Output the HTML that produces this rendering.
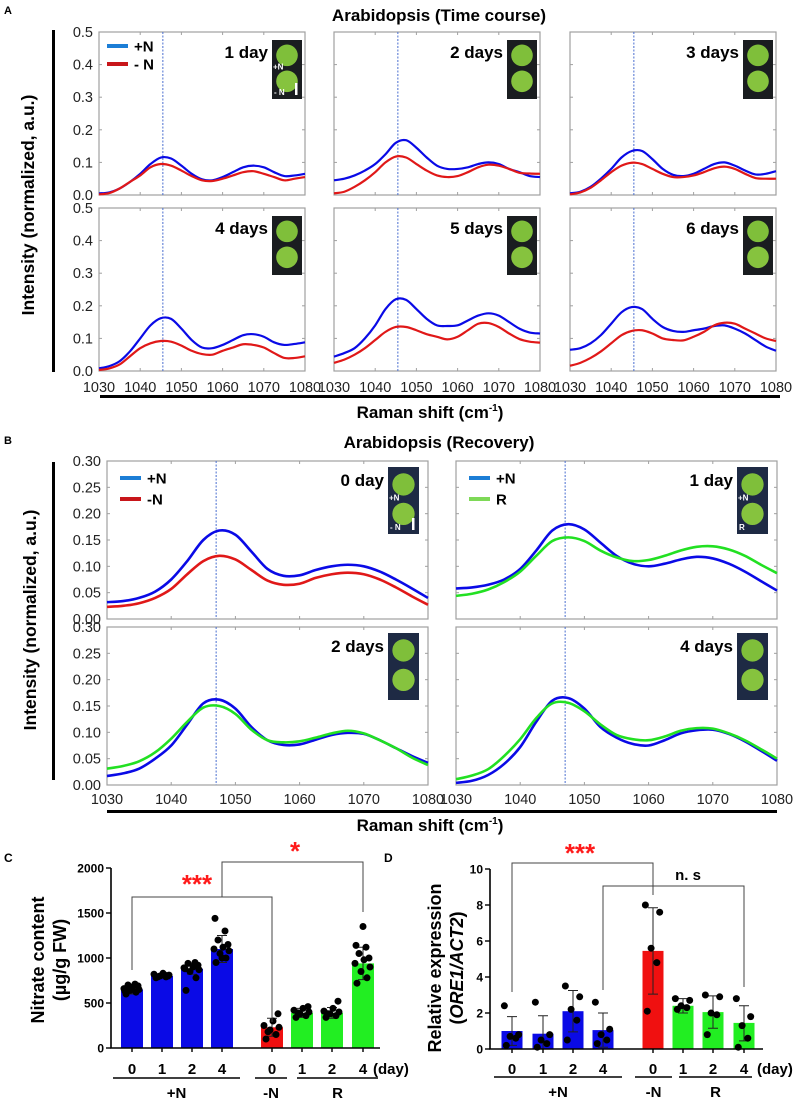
<!DOCTYPE html>
<html><head><meta charset="utf-8"><title>Arabidopsis Raman figure</title>
<style>
html,body{margin:0;padding:0;background:#fff;}
svg{display:block;font-family:"Liberation Sans",Arial,sans-serif;}
</style></head>
<body>
<svg id="fig" width="800" height="1103" viewBox="0 0 800 1103" xmlns="http://www.w3.org/2000/svg">
<rect x="0" y="0" width="800" height="1103" fill="#fff"/>
</svg>
<script>
// ---------- DATA ----------
const ramanX = [1030,1032.5,1035,1037.5,1040,1042.5,1045,1047.5,1050,1052.5,1055,1057.5,1060,1062.5,1065,1067.5,1070,1072.5,1075,1077.5,1080];
const aTicksX = [1030,1040,1050,1060,1070,1080];
const aTicksY = [0,0.1,0.2,0.3,0.4,0.5];
const aTickLabelsY = ["0.0","0.1","0.2","0.3","0.4","0.5"];
const bTicksY = [0,0.05,0.10,0.15,0.20,0.25,0.30];
const bTickLabelsY = ["0.00","0.05","0.10","0.15","0.20","0.25","0.30"];

const a1dPlus  = [.005,.008,.02,.04,.065,.095,.115,.112,.09,.065,.048,.045,.055,.07,.085,.09,.085,.07,.058,.06,.065];
const a1dMinus = [.002,.006,.02,.04,.06,.085,.095,.09,.075,.058,.045,.043,.05,.06,.07,.073,.065,.055,.045,.05,.055];
const a2dPlus  = [.045,.05,.06,.075,.095,.125,.16,.168,.145,.115,.09,.08,.08,.085,.095,.1,.095,.08,.07,.058,.055];
const a2dMinus = [.005,.01,.025,.045,.07,.1,.118,.115,.095,.075,.06,.055,.058,.07,.085,.093,.09,.08,.068,.066,.065];
const a3dPlus  = [.005,.01,.025,.05,.08,.115,.135,.135,.11,.08,.062,.058,.065,.08,.095,.1,.09,.075,.063,.065,.073];
const a3dMinus = [.002,.008,.022,.045,.07,.09,.099,.095,.08,.065,.055,.055,.06,.07,.082,.087,.08,.065,.052,.05,.05];
const a4dPlus  = [.008,.015,.03,.06,.1,.14,.162,.16,.13,.095,.072,.07,.08,.095,.11,.113,.105,.088,.08,.083,.088];
const a4dMinus = [.003,.008,.02,.045,.07,.085,.092,.09,.078,.062,.052,.05,.062,.072,.082,.08,.072,.055,.04,.04,.045];
const a5dPlus  = [.044,.055,.07,.1,.14,.19,.22,.218,.19,.16,.14,.138,.14,.155,.17,.177,.17,.15,.13,.118,.115];
const a5dMinus = [.025,.035,.05,.07,.095,.12,.135,.135,.125,.113,.105,.097,.105,.125,.145,.147,.135,.115,.098,.09,.087];
const a6dPlus  = [.065,.07,.085,.11,.145,.18,.196,.19,.16,.135,.123,.12,.125,.13,.138,.14,.13,.115,.095,.075,.062];
const a6dMinus = [.016,.025,.04,.06,.085,.11,.123,.125,.115,.1,.095,.094,.105,.12,.14,.148,.145,.13,.115,.1,.092];

const b0dPlus  = [.032,.034,.04,.052,.075,.11,.15,.168,.16,.128,.095,.082,.083,.093,.1,.103,.1,.09,.075,.058,.04];
const b0dMinus = [.023,.025,.03,.04,.057,.085,.11,.12,.113,.093,.073,.065,.067,.078,.085,.088,.085,.075,.06,.043,.027];
const b1dPlus  = [.058,.06,.065,.075,.095,.13,.168,.18,.17,.145,.12,.105,.1,.105,.113,.118,.115,.105,.09,.072,.054];
const b1dR     = [.044,.048,.056,.07,.09,.12,.148,.155,.148,.13,.117,.11,.112,.12,.13,.137,.138,.132,.12,.103,.087];
const b2dPlus  = [.017,.022,.031,.05,.075,.115,.155,.162,.145,.11,.085,.076,.077,.086,.095,.099,.097,.085,.07,.055,.042];
const b2dR     = [.031,.036,.045,.062,.088,.12,.147,.15,.135,.105,.085,.081,.083,.09,.098,.103,.098,.085,.07,.052,.038];
const b4dPlus  = [.004,.008,.019,.04,.072,.12,.16,.165,.145,.11,.09,.078,.075,.085,.098,.104,.105,.097,.083,.065,.046];
const b4dR     = [.011,.018,.03,.055,.087,.127,.155,.156,.14,.115,.095,.087,.085,.092,.103,.108,.107,.098,.085,.068,.05];

const cCategories = ["0","1","2","4","0","1","2","4"];
const cMeans = [650,800,880,1100,230,390,390,940];
const cErrTop = [700,825,940,1250,330,440,450,1120];
const cErrBot = [600,775,820,950,130,340,330,760];
const cPoints = [
 [600,620,640,650,660,680,690,700,710,630,660],
 [780,790,800,810,820,830,800,790,810],
 [640,780,850,870,890,900,920,940,950,880],
 [950,1000,1050,1080,1100,1120,1150,1200,1300,1440,1000],
 [100,150,200,230,250,300,380,180],
 [340,360,380,400,420,440,460,390],
 [340,360,380,400,410,440,520,380],
 [720,780,850,900,940,980,1000,1050,1120,1140,1350]];
const cTicks = [0,500,1000,1500,2000];

const dCategories = ["0","1","2","4","0","1","2","4"];
const dMeans = [1.0,0.85,2.1,1.05,5.45,2.4,2.05,1.45];
const dErrTop = [1.8,1.85,3.25,2.0,7.85,2.8,2.95,2.4];
const dErrBot = [0.2,0.0,0.95,0.1,3.05,2.0,1.15,0.45];
const dPoints = [
 [0.2,0.6,0.7,0.8,2.4],[0.1,0.3,0.5,0.8,2.6],[0.5,1.6,2.2,2.9,3.5],[0.3,0.5,0.8,1.1,2.6],
 [2.1,4.8,5.6,7.6,8.0],[2.2,2.3,2.4,2.7,2.8],[0.8,1.9,2.0,2.9,3.0],[0.1,0.6,1.3,1.8,2.8]];
const dTicks = [0,2,4,6,8,10];

// ---------- HELPERS ----------
const NS = "http://www.w3.org/2000/svg";
const svg = document.getElementById('fig');
function mk(tag, attrs, parent){
  const e = document.createElementNS(NS, tag);
  for (const k in attrs) e.setAttribute(k, attrs[k]);
  (parent||svg).appendChild(e);
  return e;
}
function txt(s, x, y, size, weight, anchor, fill, parent){
  const t = mk('text', {x:x, y:y, 'font-size':size, 'font-weight':weight||'normal', 'text-anchor':anchor||'start', fill:fill||'#000'}, parent);
  t.textContent = s;
  return t;
}
function smoothPath(pts){
  let d = 'M' + pts[0][0].toFixed(2) + ',' + pts[0][1].toFixed(2);
  for (let i=0;i<pts.length-1;i++){
    const p0 = pts[i-1]||pts[i], p1=pts[i], p2=pts[i+1], p3=pts[i+2]||p2;
    const c1x = p1[0]+(p2[0]-p0[0])/6, c1y = p1[1]+(p2[1]-p0[1])/6;
    const c2x = p2[0]-(p3[0]-p1[0])/6, c2y = p2[1]-(p3[1]-p1[1])/6;
    d += ' C'+c1x.toFixed(2)+','+c1y.toFixed(2)+' '+c2x.toFixed(2)+','+c2y.toFixed(2)+' '+p2[0].toFixed(2)+','+p2[1].toFixed(2);
  }
  return d;
}

// ---------- SPECTRUM PANEL ----------
function spectrum(opt){
  const g = mk('g', {});
  
  
  const xs = v => opt.x0 + (v-1030)/50*(opt.x1-opt.x0);
  const ys = v => opt.y1 - (v/opt.ymax)*(opt.y1-opt.y0);
  const box = mk('rect', {x:opt.x0, y:opt.y0, width:opt.x1-opt.x0, height:opt.y1-opt.y0, fill:'none', stroke:'#a0a0a0', 'stroke-width':1.2}, g);
  
  
  aTicksX.forEach(v=>{
    const t1 = mk('line', {x1:xs(v), x2:xs(v), y1:opt.y1, y2:opt.y1-3, stroke:'#a0a0a0', 'stroke-width':1}, g);
    
    
    const t2 = mk('line', {x1:xs(v), x2:xs(v), y1:opt.y0, y2:opt.y0+3, stroke:'#a0a0a0', 'stroke-width':1}, g);
    
    
    if (opt.xlabels){
      const l = txt(String(v), xs(v), opt.xlabelY, 14.5, 'normal', 'middle', '#222', g);
      
      
    }
  });
  opt.yticks.forEach((v,i)=>{
    const t = mk('line', {x1:opt.x0, x2:opt.x0+3, y1:ys(v), y2:ys(v), stroke:'#a0a0a0', 'stroke-width':1}, g);
    
    
    const t2 = mk('line', {x1:opt.x1, x2:opt.x1-3, y1:ys(v), y2:ys(v), stroke:'#a0a0a0', 'stroke-width':1}, g);
    
    
    if (opt.ylabels){
      const l = txt(opt.ylabels[i], opt.x0-6, ys(v)+5, 14.5, 'normal', 'end', '#222', g);
      
      
    }
  });
  const vl = mk('line', {x1:xs(opt.vline), x2:xs(opt.vline), y1:opt.y0, y2:opt.y1, stroke:'#4a6fd0', 'stroke-width':1, 'stroke-dasharray':'2,1.5'}, g);
  
  
  opt.series.forEach(s=>{
    const pts = ramanX.map((xv,i)=>[xs(xv), ys(s.values[i])]);
    const p = mk('path', {d:smoothPath(pts), fill:'none', stroke:s.color, 'stroke-width':opt.lw, 'stroke-linejoin':'round'}, g);
    
    
  });
  // inset leaf photo
  const ix = opt.inset[0], iy = opt.inset[1], iw = opt.inset[2], ih = opt.inset[3];
  const ig = mk('g', {}, g);
  
  
  mk('rect', {x:ix, y:iy, width:iw, height:ih, fill:opt.insetBg}, ig);
  const r = iw*0.36;
  mk('circle', {cx:ix+iw/2, cy:iy+ih*0.26, r:r, fill:'#7fbf3a'}, ig);
  mk('circle', {cx:ix+iw/2, cy:iy+ih*0.70, r:r, fill:'#86c33e'}, ig);
  if (opt.insetLabels){
    txt(opt.insetLabels[0], ix+1, iy+ih*0.5, 8, 'bold', 'start', '#fff', ig);
    txt(opt.insetLabels[1], ix+2, iy+ih-4, 8, 'bold', 'start', '#fff', ig);
  }
  if (opt.scaleBar) mk('rect', {x:ix+iw-7, y:iy+ih-16, width:2.5, height:12, fill:'#fff'}, ig);
  const lab = txt(opt.label, ix-4, opt.labelY, 17, 'bold', 'end', '#000', g);
  
  
  if (opt.legend){
    opt.legend.forEach((le,i)=>{
      const ly = opt.legendY + i*opt.legendGap;
      const ln = mk('line', {x1:opt.legendX, x2:opt.legendX+21, y1:ly, y2:ly, stroke:le.color, 'stroke-width':4}, g);
      
      
      const lt = txt(le.text, opt.legendX+27, ly+5.5, 15, 'bold', 'start', '#000', g);
      
      
    });
  }
}

const BLUE = '#0a0ae6', RED = '#e01818', GREEN = '#22e022', LEGBLUE = '#1c7ed6', LEGRED = '#c8161a', LEGGREEN='#7ed957';

// ---------- PANEL A ----------
const aCols = [[99,305],[334,540],[570,776]];
const aRows = [[32,195],[208,371]];
const aData = [[a1dPlus,a1dMinus,'1 day'],[a2dPlus,a2dMinus,'2 days'],[a3dPlus,a3dMinus,'3 days'],
               [a4dPlus,a4dMinus,'4 days'],[a5dPlus,a5dMinus,'5 days'],[a6dPlus,a6dMinus,'6 days']];
aData.forEach((d,k)=>{
  const c = aCols[k%3], r = aRows[Math.floor(k/3)];
  spectrum({name:'spectrum-a-'+d[2].replace(' ','-'), x0:c[0], x1:c[1], y0:r[0], y1:r[1], ymax:0.5,
    yticks:aTicksY, ylabels:(k%3===0)?aTickLabelsY:null, xlabels:k>=3, xlabelY:392, vline:1045.5, lw:2.2,
    series:[{name:'line-plus-n', color:BLUE, values:d[0]},{name:'line-minus-n', color:RED, values:d[1]}],
    inset:[c[1]-33, r[0]+8, 30, 59], insetBg:'#1a1d20', insetLabels:k===0?['+N','- N']:null, scaleBar:k===0,
    label:d[2], labelY:r[0]+26,
    legend:k===0?[{text:'+N',color:LEGBLUE},{text:'- N',color:LEGRED}]:null, legendX:107, legendY:46, legendGap:18});
});

// ---------- PANEL B ----------
const bCols = [[107,428],[456,777]];
const bRows = [[461,619],[627,785]];
const bData = [[b0dPlus,b0dMinus,'0 day',RED],[b1dPlus,b1dR,'1 day',GREEN],[b2dPlus,b2dR,'2 days',GREEN],[b4dPlus,b4dR,'4 days',GREEN]];
bData.forEach((d,k)=>{
  const c = bCols[k%2], r = bRows[Math.floor(k/2)];
  spectrum({name:'spectrum-b-'+d[2].replace(' ','-'), x0:c[0], x1:c[1], y0:r[0], y1:r[1], ymax:0.30,
    yticks:bTicksY, ylabels:(k%2===0)?bTickLabelsY:null, xlabels:k>=2, xlabelY:804, vline:1047, lw:2.6,
    series:[{name:'line-plus-n', color:BLUE, values:d[0]},{name:(d[3]===RED?'line-minus-n':'line-recovery'), color:d[3], values:d[1]}],
    inset:[c[1]-40, r[0]+6, 31, 67], insetBg:'#1e2a44', insetLabels:k===0?['+N','- N']:(k===1?['+N','R']:null), scaleBar:k===0,
    label:d[2], labelY:r[0]+25,
    legend:k===0?[{text:'+N',color:LEGBLUE},{text:'-N',color:LEGRED}]:(k===1?[{text:'+N',color:LEGBLUE},{text:'R',color:LEGGREEN}]:null),
    legendX:c[0]+13, legendY:r[0]+17, legendGap:21});
});
</script>
<script>
// ---------- STATIC ANNOTATIONS ----------
(function(){
  const a = txt('A', 4, 14, 11, 'bold', 'start', '#000');
  
  
  const at = txt('Arabidopsis (Time course)', 439, 21, 17, 'bold', 'middle', '#000');
  
  
  const av = mk('rect', {x:52, y:30, width:3, height:342, fill:'#000'});
  
  
  const ayt = txt('Intensity (normalized, a.u.)', 0, 0, 17.5, 'bold', 'middle', '#000');
  ayt.setAttribute('transform', 'translate(34,205) rotate(-90)');
  
  
  const ah = mk('rect', {x:100, y:395, width:680, height:3, fill:'#000'});
  
  
  const ax = txt('Raman shift (cm', 430, 418, 17, 'bold', 'middle', '#000');
  
  
  const s1 = mk('tspan', {'font-size':10, dy:-7}, ax); s1.textContent='-1';
  const s2 = mk('tspan', {dy:7}, ax); s2.textContent=')';

  const b = txt('B', 4, 444, 11, 'bold', 'start', '#000');
  
  
  const bt = txt('Arabidopsis (Recovery)', 439, 448, 17, 'bold', 'middle', '#000');
  
  
  const bv = mk('rect', {x:52, y:462, width:3, height:318, fill:'#000'});
  
  
  const byt = txt('Intensity (normalized, a.u.)', 0, 0, 17.5, 'bold', 'middle', '#000');
  byt.setAttribute('transform', 'translate(36,620) rotate(-90)');
  
  
  const bh = mk('rect', {x:107, y:810, width:670, height:3, fill:'#000'});
  
  
  const bx = txt('Raman shift (cm', 430, 831, 17, 'bold', 'middle', '#000');
  
  
  const s3 = mk('tspan', {'font-size':10, dy:-7}, bx); s3.textContent='-1';
  const s4 = mk('tspan', {dy:7}, bx); s4.textContent=')';
})();

// ---------- BAR PANELS ----------
function barPanel(o){
  const g = mk('g', {});
  
  
  const ys = v => o.yBase - v/o.ymax*(o.yBase-o.yTop);
  const colors = ['#0a0ae6','#0a0ae6','#0a0ae6','#0a0ae6','#f01010','#22ee22','#22ee22','#22ee22'];
  o.means.forEach((m,i)=>{
    const cx = o.centers[i];
    const bar = mk('rect', {x:cx-o.bw/2, y:ys(m), width:o.bw, height:o.yBase-ys(m), fill:colors[i]}, g);
    
    
    const eb = mk('path', {d:'M'+cx+','+ys(o.errTop[i])+'V'+ys(o.errBot[i])+'M'+(cx-5)+','+ys(o.errTop[i])+'H'+(cx+5)+'M'+(cx-5)+','+ys(o.errBot[i])+'H'+(cx+5), stroke:'#222', 'stroke-width':1, fill:'none'}, g);
    
    
    const jit = [-6,4,-2,7,-8,1,6,-4,3,-7,0];
    o.points[i].forEach((p,j)=>{
      const dot = mk('circle', {cx:cx+jit[j%jit.length]*o.bw/22, cy:ys(p), r:o.r, fill:'#000'}, g);
      
      
    });
    const lab = txt(o.cats[i], cx, o.labY, 15, 'bold', 'middle', '#000', g);
    
    
  });
  const ax = mk('path', {d:'M'+o.axX+','+o.yTop+'V'+o.yBase+'H'+o.axEnd, stroke:'#000', 'stroke-width':1.6, fill:'none'}, g);
  
  
  o.ticks.forEach(t=>{
    const tk = mk('line', {x1:o.axX-5, x2:o.axX, y1:ys(t), y2:ys(t), stroke:'#000', 'stroke-width':1.4}, g);
    
    
    const tl = txt(String(t), o.axX-7, ys(t)+4.5, 12, 'bold', 'end', '#000', g);
    
    
  });
  o.centers.forEach(cx=>{
    const tk = mk('line', {x1:cx, x2:cx, y1:o.yBase, y2:o.yBase+4, stroke:'#000', 'stroke-width':1.4}, g);
    
    
  });
  const day = txt('(day)', o.dayX, o.labY, 15, 'bold', 'start', '#000', g);
  
  
  o.groups.forEach(gr=>{
    const gl = mk('line', {x1:gr[0], x2:gr[1], y1:o.ulY, y2:o.ulY, stroke:'#000', 'stroke-width':1.4}, g);
    
    
    const gt = txt(gr[2], (gr[0]+gr[1])/2, o.ulY+20, 15, 'bold', 'middle', '#000', g);
    
    
  });
  o.brackets.forEach(br=>{
    const bp = mk('path', {d:'M'+br[0]+','+br[3]+'V'+br[2]+'H'+br[1]+'V'+br[4], stroke:'#444', 'stroke-width':1, fill:'none'}, g);
    
    
    const bt = txt(br[5], br[6], br[7], br[8], 'bold', 'middle', br[9], g);
    
    
  });
  const pl = txt(o.panel, o.panelX, o.panelY, 12, 'bold', 'start', '#000', g);
  
  
  const yt = mk('text', {transform:'translate('+o.titleX+','+o.titleY+') rotate(-90)', 'font-size':18, 'font-weight':'bold', 'text-anchor':'middle'}, g);
  
  
  const t1 = mk('tspan', {x:0, dy:0}, yt); t1.textContent = o.title1;
  const t2 = mk('tspan', {x:0, dy:22}, yt);
  o.title2.forEach(seg=>{ const s = mk('tspan', seg[1]?{'font-style':'italic'}:{}, t2); s.textContent = seg[0]; });
}

barPanel({name:'nitrate-chart', panel:'C', panelX:4, panelY:862, means:cMeans, errTop:cErrTop, errBot:cErrBot, points:cPoints, cats:cCategories,
  ymax:2000, yTop:868, yBase:1048, axX:111, axEnd:380, ticks:cTicks, bw:22, r:3.5,
  centers:[132,162,192,222,272,302,332,363], labY:1074, dayX:373, ulY:1078,
  groups:[[113,240,'+N'],[255,287,'-N'],[297,378,'R']],
  brackets:[[132,272,897,970,1022,'***',197,893,26,'#ff1a1a'],[222,363,862,897,912,'*',295,860,26,'#ff1a1a']],
  titleX:44, titleY:960, title1:'Nitrate content', title2:[['(µg/g FW)',false]]});

barPanel({name:'ore1-expression-chart', panel:'D', panelX:384, panelY:862, means:dMeans, errTop:dErrTop, errBot:dErrBot, points:dPoints, cats:dCategories,
  ymax:10, yTop:869, yBase:1049, axX:490, axEnd:763, ticks:dTicks, bw:21, r:3.5,
  centers:[512,543,573,603,653,683,713,744], labY:1074, dayX:757, ulY:1077,
  groups:[[494,622,'+N'],[635,672,'-N'],[679,752,'R']],
  brackets:[[512,653,863,992,895,'***',580,862,26,'#ff1a1a'],[603,744,886,990,987,'n. s',688,880,15,'#000']],
  titleX:441, titleY:968, title1:'Relative expression', title2:[['(',false],['ORE1/ACT2',true],[')',false]]});
</script>
</body></html>
